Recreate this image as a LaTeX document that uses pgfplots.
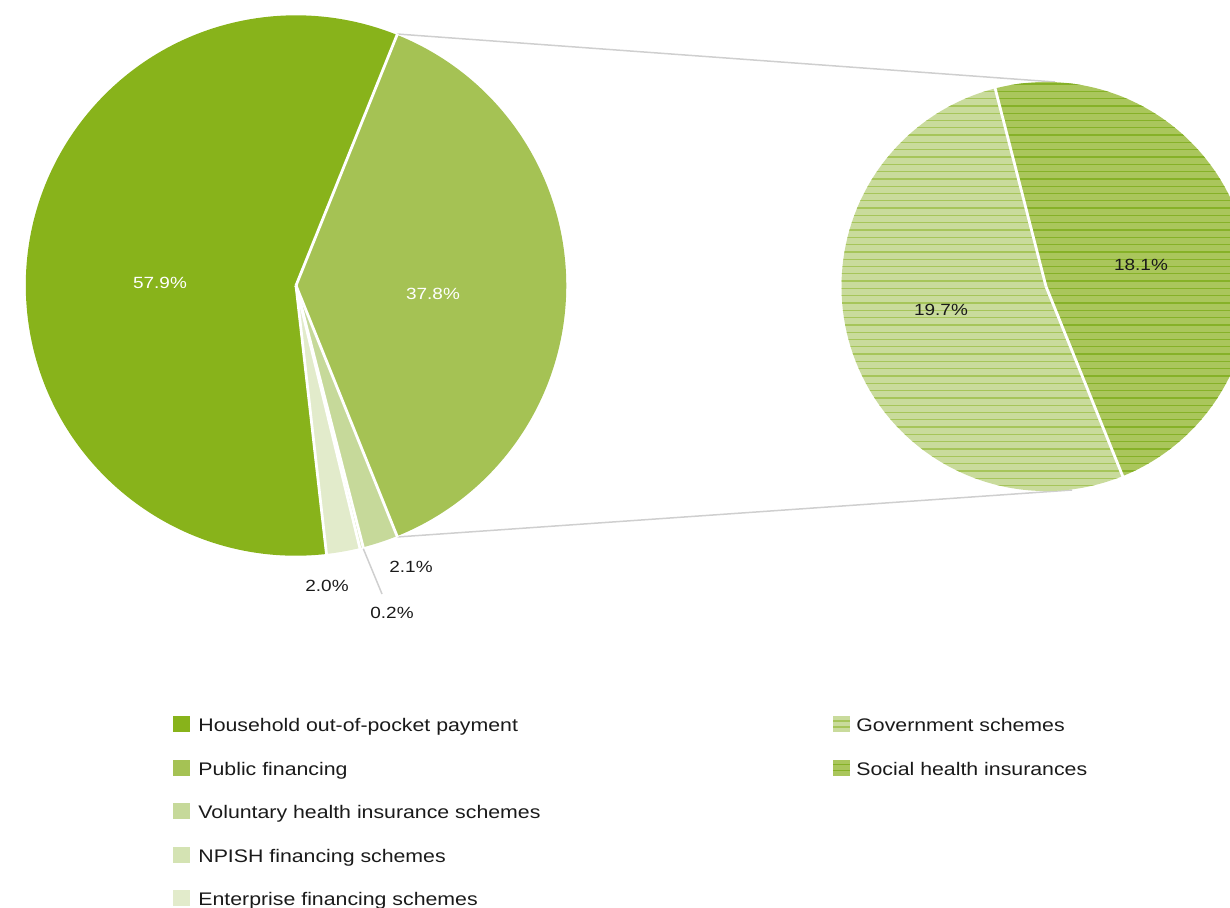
\documentclass[border=0pt]{standalone}
\usepackage{pgfplots}
\pgfplotsset{compat=1.18}
\usepackage{fontspec}
\setmainfont{Liberation Sans}[FakeStretch=1.17]

\definecolor{household}{HTML}{88B31B}
\definecolor{public}{HTML}{A5C254}
\definecolor{voluntary}{HTML}{C6D99A}
\definecolor{npish}{HTML}{D4E3B3}
\definecolor{enterprise}{HTML}{E2EBCB}
\definecolor{govbase}{HTML}{C9DB9C}
\definecolor{govline}{HTML}{A6C55A}
\definecolor{socbase}{HTML}{AAC65C}
\definecolor{socline}{HTML}{86B128}
\definecolor{conn}{HTML}{CFCFCF}
\definecolor{txt}{HTML}{1A1A1A}

% cx, cy, radius, start angle, end angle, style
\newcommand\slicepath[5]{(axis cs:#1,#2) -- ++({#4}:#3) arc[start angle={#4}, end angle={#5}, radius=#3] -- cycle}
\newcommand\pieslice[6]{\fill[#6] \slicepath{#1}{#2}{#3}{#4}{#5};}
\newcommand\piesep[4]{%
  \draw[white, line width=1.4pt] (axis cs:#1,#2) -- ++({#4}:#3);}

\newcommand\lbl{\fontsize{8.1}{9.7}\selectfont}
\newcommand\leg{\fontsize{9.1}{10.9}\selectfont}

\begin{document}
\begin{tikzpicture}
\useasboundingbox (0,0) rectangle (615pt,454pt);
\clip (0,0) rectangle (615pt,454pt);
\begin{axis}[
  at={(0pt,454pt)}, anchor=origin,
  x=0.5pt, y=0.5pt, y dir=reverse,
  xmin=0, xmax=1230, ymin=0, ymax=908,
  hide axis, clip=false,
]
% connector lines
\draw[conn, line width=0.75pt] (axis cs:397,34) -- (axis cs:1055,82);
\draw[conn, line width=0.75pt] (axis cs:397,537) -- (axis cs:1072,490);
\draw[conn, line width=0.75pt] (axis cs:363,548) -- (axis cs:382,594);

% left pie: start 68.04 deg, clockwise; shares 37.8, 2.1, 0.2, 2.0, 57.9
\pieslice{296}{285.5}{135.1pt}{68.04-3.6*0}{68.04-3.6*37.8}{public}
\pieslice{296}{285.5}{135.1pt}{68.04-3.6*37.8}{68.04-3.6*39.9}{voluntary}
\pieslice{296}{285.5}{135.1pt}{68.04-3.6*39.9}{68.04-3.6*40.1}{npish}
\pieslice{296}{285.5}{135.1pt}{68.04-3.6*40.1}{68.04-3.6*42.1}{enterprise}
\pieslice{296}{285.5}{135.1pt}{68.04-3.6*42.1}{68.04-3.6*100}{household}
\piesep{296}{285.5}{135.8pt}{68.04-3.6*0}
\piesep{296}{285.5}{135.8pt}{68.04-3.6*37.8}
\piesep{296}{285.5}{135.8pt}{68.04-3.6*39.9}
\piesep{296}{285.5}{135.8pt}{68.04-3.6*40.1}
\piesep{296}{285.5}{135.8pt}{68.04-3.6*42.1}

% right pie: public financing 37.8 split into 18.1 and 19.7
\pieslice{1046}{286.5}{102.25pt}{104.4}{104.4-360*18.1/37.8}{socbase}
\begin{scope}
\clip \slicepath{1046}{286.5}{102.25pt}{104.4}{104.4-360*18.1/37.8};
\pgfplotsinvokeforeach{0,...,57}{\draw[socline, line width=0.65pt] (axis cs:830,{84+7.3*#1}) -- (axis cs:1260,{84+7.3*#1});}
\end{scope}
\pieslice{1046}{286.5}{102.25pt}{104.4-360*18.1/37.8}{104.4-360}{govbase}
\begin{scope}
\clip \slicepath{1046}{286.5}{102.25pt}{104.4-360*18.1/37.8}{104.4-360};
\pgfplotsinvokeforeach{0,...,57}{\draw[govline, line width=0.65pt] (axis cs:830,{84+7.3*#1}) -- (axis cs:1260,{84+7.3*#1});}
\end{scope}
\piesep{1046}{286.5}{103pt}{104.4}
\piesep{1046}{286.5}{103pt}{104.4-360*18.1/37.8}

% slice labels
\node[white, font=\lbl] at (axis cs:160,283) {57.9\%};
\node[white, font=\lbl] at (axis cs:433,294) {37.8\%};
\node[txt, font=\lbl] at (axis cs:411,567) {2.1\%};
\node[txt, font=\lbl] at (axis cs:392,613) {0.2\%};
\node[txt, font=\lbl] at (axis cs:327,586) {2.0\%};
\node[txt, font=\lbl] at (axis cs:941,310) {19.7\%};
\node[txt, font=\lbl] at (axis cs:1141,265) {18.1\%};

% legend
\fill[household] (axis cs:173,716) rectangle (axis cs:190,732);
\fill[public] (axis cs:173,759.5) rectangle (axis cs:190,775.5);
\fill[voluntary] (axis cs:173,803) rectangle (axis cs:190,819);
\fill[npish] (axis cs:173,846.5) rectangle (axis cs:190,862.5);
\fill[enterprise] (axis cs:173,890) rectangle (axis cs:190,906);
\node[txt, font=\leg, anchor=base west, inner sep=0pt] at (axis cs:198,731.5) {Household out-of-pocket payment};
\node[txt, font=\leg, anchor=base west, inner sep=0pt] at (axis cs:198,775) {Public financing};
\node[txt, font=\leg, anchor=base west, inner sep=0pt] at (axis cs:198,818.5) {Voluntary health insurance schemes};
\node[txt, font=\leg, anchor=base west, inner sep=0pt] at (axis cs:198,862) {NPISH financing schemes};
\node[txt, font=\leg, anchor=base west, inner sep=0pt] at (axis cs:198,905.5) {Enterprise financing schemes};

\fill[govbase] (axis cs:833,716) rectangle (axis cs:850,732);
\draw[govline, line width=0.7pt] (axis cs:833,721) -- (axis cs:850,721);
\draw[govline, line width=0.7pt] (axis cs:833,727) -- (axis cs:850,727);
\fill[socbase] (axis cs:833,759.5) rectangle (axis cs:850,775.5);
\draw[socline, line width=0.7pt] (axis cs:833,764.5) -- (axis cs:850,764.5);
\draw[socline, line width=0.7pt] (axis cs:833,770.5) -- (axis cs:850,770.5);
\node[txt, font=\leg, anchor=base west, inner sep=0pt] at (axis cs:856,731.5) {Government schemes};
\node[txt, font=\leg, anchor=base west, inner sep=0pt] at (axis cs:856,775) {Social health insurances};
\end{axis}
\end{tikzpicture}
\end{document}
